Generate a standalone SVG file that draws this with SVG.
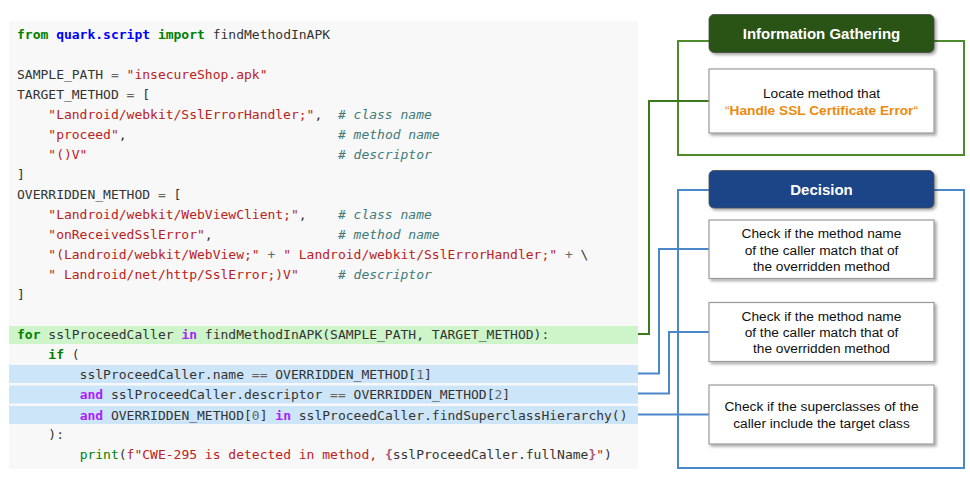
<svg xmlns="http://www.w3.org/2000/svg" width="970" height="480" viewBox="0 0 970 480">
<defs>
<style>
.c text{font-family:"DejaVu Sans Mono","Liberation Mono",monospace;font-size:13px;fill:#333;white-space:pre}
.k{fill:#008000;font-weight:bold}
.ns{fill:#0000ff;font-weight:bold}
.s{fill:#ba2121}
.cm{fill:#3d7b7b;font-style:italic}
.o{fill:#666}
.ow{fill:#aa22ff;font-weight:bold}
.bi{fill:#008000}
.si{fill:#a45a77;font-weight:bold}
.hdr{font-family:"Liberation Sans",Arial,sans-serif;font-size:15px;font-weight:bold;fill:#fff;text-anchor:middle}
.bt{font-family:"Liberation Sans",Arial,sans-serif;font-size:13.7px;fill:#111;text-anchor:middle}
.box{fill:#fff;stroke:#9a9a9a;stroke-width:1.2}
.gl{fill:none;stroke:#4f8a2b;stroke-width:2}
.bl{fill:none;stroke:#4a88c9;stroke-width:2}
</style>
<filter id="sh" x="-10%" y="-10%" width="125%" height="130%">
<feDropShadow dx="2" dy="2" stdDeviation="1.5" flood-color="#000" flood-opacity="0.35"/>
</filter>
</defs>

<g id="code">
<rect x="9" y="21" width="629" height="448" fill="#f8f8f8"/>
<rect x="9" y="326" width="629" height="18" fill="#cdf5c9"/>
<rect x="9" y="365" width="629" height="18" fill="#cde5f8"/>
<rect x="9" y="385.5" width="629" height="18" fill="#cde5f8"/>
<rect x="9" y="406" width="629" height="18" fill="#cde5f8"/>
<g class="c">
<text xml:space="preserve" x="17" y="39.3"><tspan class="k">from</tspan> <tspan class="ns">quark.script</tspan> <tspan class="k">import</tspan> findMethodInAPK</text>
<text xml:space="preserve" x="17" y="79.3">SAMPLE_PATH <tspan class="o">=</tspan> <tspan class="s">"insecureShop.apk"</tspan></text>
<text xml:space="preserve" x="17" y="99.3">TARGET_METHOD <tspan class="o">=</tspan> [</text>
<text xml:space="preserve" x="17" y="119.3">    <tspan class="s">"Landroid/webkit/SslErrorHandler;"</tspan>,  <tspan class="cm"># class name</tspan></text>
<text xml:space="preserve" x="17" y="139.3">    <tspan class="s">"proceed"</tspan>,                           <tspan class="cm"># method name</tspan></text>
<text xml:space="preserve" x="17" y="159.3">    <tspan class="s">"()V"</tspan>                                <tspan class="cm"># descriptor</tspan></text>
<text xml:space="preserve" x="17" y="179.3">]</text>
<text xml:space="preserve" x="17" y="199.3">OVERRIDDEN_METHOD <tspan class="o">=</tspan> [</text>
<text xml:space="preserve" x="17" y="219.3">    <tspan class="s">"Landroid/webkit/WebViewClient;"</tspan>,    <tspan class="cm"># class name</tspan></text>
<text xml:space="preserve" x="17" y="239.3">    <tspan class="s">"onReceivedSslError"</tspan>,                <tspan class="cm"># method name</tspan></text>
<text xml:space="preserve" x="17" y="259.3">    <tspan class="s">"(Landroid/webkit/WebView;"</tspan> <tspan class="o">+</tspan> <tspan class="s">" Landroid/webkit/SslErrorHandler;"</tspan> <tspan class="o">+</tspan> \</text>
<text xml:space="preserve" x="17" y="279.3">    <tspan class="s">" Landroid/net/http/SslError;)V"</tspan>     <tspan class="cm"># descriptor</tspan></text>
<text xml:space="preserve" x="17" y="299.3">]</text>
<text xml:space="preserve" x="17" y="339.3"><tspan class="k">for</tspan> sslProceedCaller <tspan class="ow">in</tspan> findMethodInAPK(SAMPLE_PATH, TARGET_METHOD):</text>
<text xml:space="preserve" x="17" y="359.3">    <tspan class="k">if</tspan> (</text>
<text xml:space="preserve" x="17" y="379">        sslProceedCaller.name <tspan class="o">==</tspan> OVERRIDDEN_METHOD[<tspan class="o">1</tspan>]</text>
<text xml:space="preserve" x="17" y="399.3">        <tspan class="ow">and</tspan> sslProceedCaller.descriptor <tspan class="o">==</tspan> OVERRIDDEN_METHOD[<tspan class="o">2</tspan>]</text>
<text xml:space="preserve" x="17" y="419.8">        <tspan class="ow">and</tspan> OVERRIDDEN_METHOD[<tspan class="o">0</tspan>] <tspan class="ow">in</tspan> sslProceedCaller.findSuperclassHierarchy()</text>
<text xml:space="preserve" x="17" y="439.3">    ):</text>
<text xml:space="preserve" x="17" y="459.3">        <tspan class="bi">print</tspan>(<tspan class="s">f"CWE-295 is detected in method, </tspan><tspan class="si">{</tspan>sslProceedCaller.fullName<tspan class="si">}</tspan><tspan class="s">"</tspan>)</text>
</g>
</g>

<g id="frames">
<rect class="gl" x="678" y="41" width="286" height="114"/>
<rect class="bl" x="678" y="190" width="286" height="278"/>
</g>

<g id="connectors">
<path d="M638,334 H649 V101 H709" fill="none" stroke="#3a7a1c" stroke-width="2"/>
<path class="bl" d="M638,373.5 H659 V249 H709"/>
<path class="bl" d="M638,393.5 H669 V332 H709"/>
<path class="bl" d="M638,414.5 H709"/>
</g>

<g id="info-header">
<rect x="709" y="14.5" width="225" height="38" rx="5" fill="#2a5216" stroke="#4a4a4a" stroke-width="0.8" filter="url(#sh)"/>
<text class="hdr" x="821.5" y="39">Information Gathering</text>
</g>

<g id="locate">
<rect class="box" x="709" y="69" width="225" height="64" filter="url(#sh)"/>
<text class="bt" x="821.5" y="97.5">Locate method that</text>
<text class="bt" x="821.5" y="114.5" style="fill:#ec8a0c">“<tspan font-weight="bold">Handle SSL Certificate Error</tspan>“</text>
</g>

<g id="decision-header">
<rect x="709" y="170.5" width="225" height="37.5" rx="5" fill="#1e4588" stroke="#4a4a4a" stroke-width="0.8" filter="url(#sh)"/>
<text class="hdr" x="821.5" y="195">Decision</text>
</g>

<g id="check1">
<rect class="box" x="709" y="220" width="225" height="58.5" filter="url(#sh)"/>
<text class="bt" x="821.5" y="237.5">Check if the method name</text>
<text class="bt" x="821.5" y="254.5">of the caller match that of</text>
<text class="bt" x="821.5" y="270.5">the overridden method</text>
</g>

<g id="check2">
<rect class="box" x="709" y="302.5" width="225" height="59" filter="url(#sh)"/>
<text class="bt" x="821.5" y="320.5">Check if the method name</text>
<text class="bt" x="821.5" y="337">of the caller match that of</text>
<text class="bt" x="821.5" y="353">the overridden method</text>
</g>

<g id="check3">
<rect class="box" x="709" y="385" width="225" height="59" filter="url(#sh)"/>
<text class="bt" x="821.5" y="411">Check if the superclasses of the</text>
<text class="bt" x="821.5" y="428">caller include the target class</text>
</g>
</svg>
